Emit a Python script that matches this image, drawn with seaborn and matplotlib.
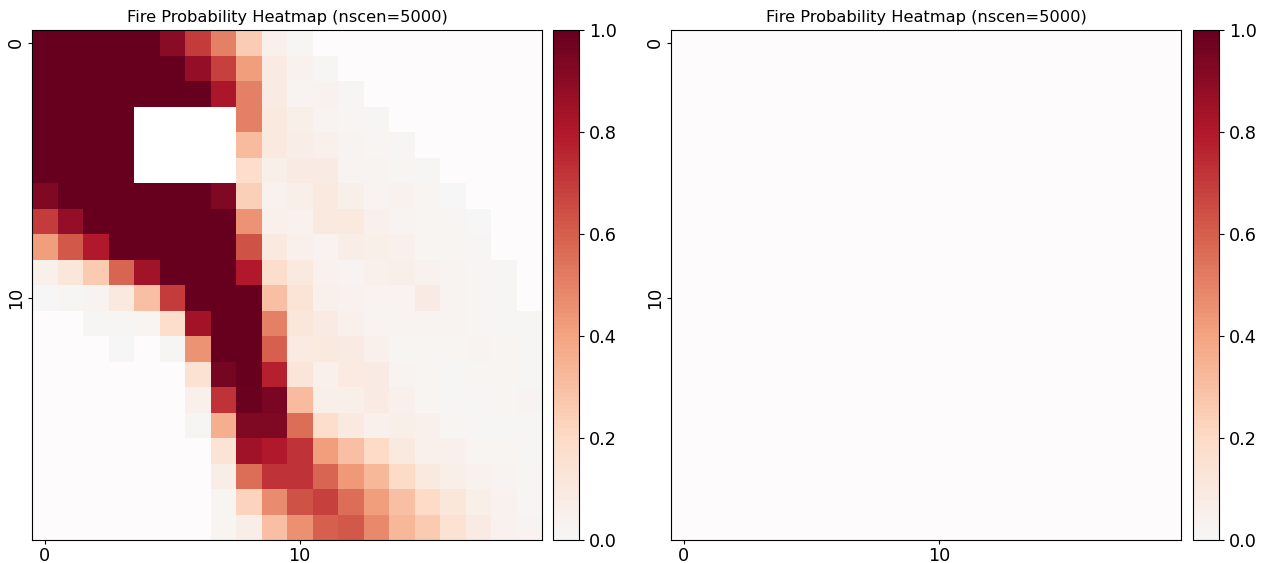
import numpy as np
import matplotlib
matplotlib.use("Agg")
import matplotlib.pyplot as plt
import seaborn as sns
from matplotlib.colors import ListedColormap

nan = np.nan

# Fire probability grid (20 x 20); NaN = never reached
fire_prob = [
    [1, 1, 1, 1, 1, 0.9, 0.7, 0.5, 0.25, 0.05, 0.01, nan, nan, nan, nan, nan, nan, nan, nan, nan],
    [1, 1, 1, 1, 1, 1, 0.88, 0.68, 0.42, 0.08, 0.04, 0.01, nan, nan, nan, nan, nan, nan, nan, nan],
    [1, 1, 1, 1, 1, 1, 1, 0.82, 0.5, 0.08, 0.03, 0.04, 0.01, nan, nan, nan, nan, nan, nan, nan],
    [1, 1, 1, 1, nan, nan, nan, nan, 0.5, 0.1, 0.06, 0.03, 0.02, 0.01, nan, nan, nan, nan, nan, nan],
    [1, 1, 1, 1, nan, nan, nan, nan, 0.32, 0.1, 0.07, 0.05, 0.03, 0.02, 0.01, nan, nan, nan, nan, nan],
    [1, 1, 1, 1, nan, nan, nan, nan, 0.18, 0.06, 0.08, 0.08, 0.03, 0.03, 0.02, 0.01, nan, nan, nan, nan],
    [0.93, 1, 1, 1, 1, 1, 1, 0.93, 0.24, 0.04, 0.06, 0.1, 0.06, 0.03, 0.04, 0.02, 0.005, nan, nan, nan],
    [0.7, 0.88, 1, 1, 1, 1, 1, 1, 0.45, 0.05, 0.04, 0.1, 0.1, 0.05, 0.03, 0.02, 0.02, 0.005, nan, nan],
    [0.42, 0.62, 0.8, 1, 1, 1, 1, 1, 0.64, 0.1, 0.05, 0.03, 0.07, 0.06, 0.05, 0.02, 0.02, 0.01, nan, nan],
    [0.05, 0.12, 0.26, 0.58, 0.84, 1, 1, 1, 0.8, 0.18, 0.1, 0.04, 0.03, 0.05, 0.06, 0.04, 0.03, 0.02, 0.01, nan],
    [0.0, 0.01, 0.03, 0.1, 0.3, 0.7, 1, 1, 1, 0.3, 0.14, 0.05, 0.04, 0.03, 0.03, 0.08, 0.03, 0.02, 0.01, nan],
    [nan, nan, 0.01, 0.01, 0.02, 0.18, 0.84, 1, 1, 0.5, 0.12, 0.08, 0.05, 0.03, 0.03, 0.03, 0.03, 0.02, 0.01, 0.01],
    [nan, nan, nan, 0.0, nan, 0.015, 0.45, 1, 1, 0.6, 0.09, 0.1, 0.08, 0.05, 0.02, 0.02, 0.02, 0.03, 0.02, 0.01],
    [nan, nan, nan, nan, nan, nan, 0.15, 0.96, 1, 0.78, 0.13, 0.05, 0.09, 0.08, 0.03, 0.02, 0.01, 0.02, 0.02, 0.01],
    [nan, nan, nan, nan, nan, nan, 0.05, 0.72, 0.99, 0.95, 0.32, 0.06, 0.06, 0.08, 0.05, 0.02, 0.01, 0.01, 0.02, 0.03],
    [nan, nan, nan, nan, nan, nan, 0.01, 0.36, 0.93, 0.93, 0.56, 0.18, 0.1, 0.05, 0.06, 0.05, 0.02, 0.01, 0.01, 0.01],
    [nan, nan, nan, nan, nan, nan, nan, 0.14, 0.85, 0.8, 0.72, 0.42, 0.3, 0.2, 0.1, 0.05, 0.05, 0.02, 0.02, 0.01],
    [nan, nan, nan, nan, nan, nan, nan, 0.07, 0.56, 0.72, 0.72, 0.58, 0.43, 0.33, 0.2, 0.1, 0.06, 0.04, 0.03, 0.02],
    [nan, nan, nan, nan, nan, nan, nan, 0.02, 0.23, 0.47, 0.64, 0.68, 0.56, 0.42, 0.3, 0.2, 0.12, 0.06, 0.04, 0.02],
    [nan, nan, nan, nan, nan, nan, nan, 0.02, 0.07, 0.3, 0.46, 0.6, 0.62, 0.48, 0.33, 0.26, 0.15, 0.08, 0.04, 0.03],
]

# Non-burnable block (drawn white)
obstacle_rows = [3, 4, 5]
obstacle_cols = [4, 5, 6, 7]

grid_size = 20
title = "Fire Probability Heatmap (nscen=5000)"

left_data = np.array(fire_prob, dtype=float)
right_data = np.full((grid_size, grid_size), np.nan)  # second panel: no burned cells
obstacle = np.full((grid_size, grid_size), np.nan)
for r in obstacle_rows:
    for c in obstacle_cols:
        obstacle[r, c] = 1.0

base = plt.get_cmap("RdBu_r")
cmap = ListedColormap(base(np.linspace(0.5, 1.0, 256)))
white_cmap = ListedColormap(["#ffffff"])

W, H = 1266, 563
fig = plt.figure(figsize=(W / 100, H / 100), dpi=100)

def px(x0, y0, x1, y1):
    return [x0 / W, 1 - y1 / H, (x1 - x0) / W, (y1 - y0) / H]

panels = [
    (left_data, px(32, 30, 542, 540), px(553, 30, 579, 540), True),
    (right_data, px(671, 30, 1181, 540), px(1193, 30, 1219, 540), False),
]

AX_TICK_FS = 12.7
CB_TICK_FS = 12.7
for data, ax_pos, cb_pos, has_obstacle in panels:
    ax = fig.add_axes(ax_pos)
    cax = fig.add_axes(cb_pos)
    ax.set_facecolor("#fdfbfc")
    if has_obstacle:
        sns.heatmap(obstacle, ax=ax, cmap=white_cmap, cbar=False,
                    vmin=0, vmax=1, xticklabels=10, yticklabels=10)
    sns.heatmap(data, ax=ax, cmap=cmap, vmin=0, vmax=1, cbar=True, cbar_ax=cax,
                xticklabels=10, yticklabels=10)
    ax.set_title(title, fontsize=11.7)
    ax.tick_params(labelsize=AX_TICK_FS, length=3, pad=2)
    for lab in ax.get_yticklabels():
        lab.set_rotation(90)
        lab.set_va("center")
    for s in ax.spines.values():
        s.set_visible(True)
        s.set_linewidth(0.8)
        s.set_color("black")
    cb = ax.collections[-1].colorbar
    cb.outline.set_visible(True)
    cb.outline.set_linewidth(0.8)
    cb.outline.set_edgecolor("black")
    cb.set_ticks([0.0, 0.2, 0.4, 0.6, 0.8, 1.0])
    cb.ax.tick_params(labelsize=CB_TICK_FS)

fig.savefig("out.png", dpi=100)
